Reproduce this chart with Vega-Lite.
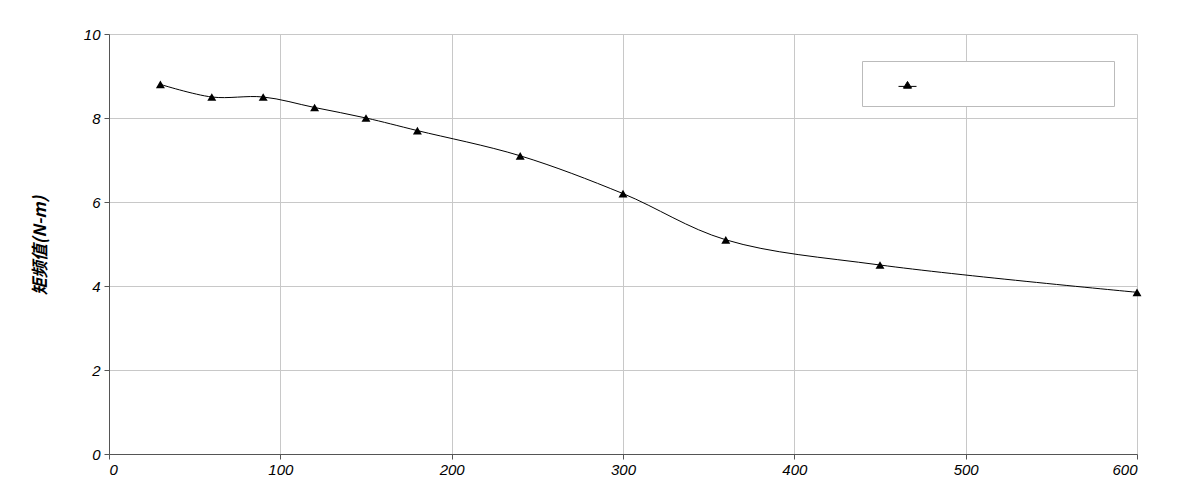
{
  "$schema": "https://vega.github.io/schema/vega-lite/v6.json",
  "width": 1028,
  "height": 420,
  "autosize": {"type": "none"},
  "padding": {"left": 109, "top": 34, "right": 42, "bottom": 45},
  "background": "white",
  "config": {
    "view": {"stroke": null},
    "font": "Liberation Sans",
    "axis": {
      "labelFont": "Liberation Sans",
      "labelFontStyle": "italic",
      "labelFontSize": 15,
      "labelColor": "black",
      "labelOverlap": false,
      "gridColor": "#c8c8c8",
      "gridWidth": 1,
      "domainColor": "#555",
      "tickColor": "#555",
      "tickSize": 5
    }
  },
  "data": {
    "values": [
      {"x": 30, "y": 8.8},
      {"x": 60, "y": 8.5},
      {"x": 90, "y": 8.5},
      {"x": 120, "y": 8.25},
      {"x": 150, "y": 8.0},
      {"x": 180, "y": 7.7},
      {"x": 240, "y": 7.1},
      {"x": 300, "y": 6.2},
      {"x": 360, "y": 5.1},
      {"x": 450, "y": 4.5},
      {"x": 600, "y": 3.85}
    ]
  },
  "encoding": {
    "x": {
      "field": "x",
      "type": "quantitative",
      "scale": {"domain": [0, 600], "nice": false},
      "axis": {"title": null, "values": [0, 100, 200, 300, 400, 500, 600], "labelPadding": 3}
    },
    "y": {
      "field": "y",
      "type": "quantitative",
      "scale": {"domain": [0, 10], "nice": false},
      "axis": {
        "title": "矩频值(N-m)",
        "values": [0, 2, 4, 6, 8, 10],
        "titleFont": "Noto Sans CJK SC",
        "titleFontStyle": "italic",
        "titleFontWeight": "bold",
        "titleFontSize": 17,
        "titleColor": "black",
        "titleAngle": -90,
        "titleX": -69,
        "titleY": 211,
        "titleAlign": "center",
        "titleBaseline": "middle",
        "labelPadding": 4
      }
    }
  },
  "layer": [
    {
      "mark": {"type": "line", "interpolate": "catmull-rom", "strokeWidth": 1},
      "encoding": {
        "color": {
          "datum": "s",
          "scale": {"range": ["black"]},
          "legend": {
            "title": null,
            "orient": "none",
            "legendX": 753,
            "legendY": 27,
            "strokeColor": "#bbbbbb",
            "fillColor": "white",
            "padding": 15,
            "symbolType": "M-1,0.1H1M0,-0.45L0.45,0.3H-0.45Z",
            "symbolSize": 324,
            "symbolFillColor": "black",
            "symbolStrokeColor": "black",
            "symbolStrokeWidth": 1,
            "symbolOffset": 21,
            "labelExpr": "' '",
            "labelOffset": 182,
            "labelFontSize": 11
          }
        }
      }
    },
    {
      "mark": {"type": "point", "shape": "triangle-up", "filled": true, "color": "black", "opacity": 1, "size": 80}
    }
  ]
}
